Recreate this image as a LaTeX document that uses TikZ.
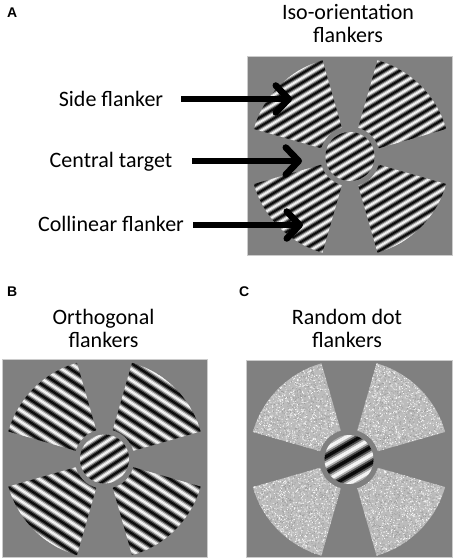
\documentclass[tikz,border=0pt]{standalone}
\usepackage{fontspec}
\setmainfont{Carlito}
\newfontfamily\lettersans{Liberation Sans}
\usetikzlibrary{arrows.meta}

\definecolor{screengray}{RGB}{128,128,128}
\definecolor{noisegray}{RGB}{188,188,188}

% flanker wedges and target disc round a panel centre
\tikzset{
  flankers/.style={insert path={
    \foreach \c in {45,135,225,315}{
      ({\c-29}:30) -- ({\c-29}:100) arc[start angle=\c-29, end angle=\c+29, radius=100]
      -- ({\c+29}:30) arc[start angle=\c+29, end angle=\c-29, radius=30] -- cycle}}},
  target/.style={insert path={(0,0) circle[radius=24.5]}}
}

% sine grating: stripe angle, period, cycles each side
\newcommand{\gratingfill}[3]{%
  \begin{scope}[rotate=#1]
    \foreach \k in {-#3,...,#3}{
      \foreach \s in {0,...,7}{
        \pgfmathtruncatemacro{\lum}{50-50*cos(45*\s+22.5)}
        \fill[white!\lum!black] (-130,{(\k+\s/8)*#2}) rectangle (130,{(\k+(\s+1.15)/8)*#2});
      }
    }
  \end{scope}}

\begin{document}
\begin{tikzpicture}[
    x=1pt, y=1pt,
    heading/.style={font=\fontsize{22}{23.5}\selectfont, align=center, inner sep=0pt, anchor=south},
    callout/.style={font=\fontsize{22}{24}\selectfont, inner sep=0pt, anchor=base},
    panel/.style={font=\lettersans\bfseries\fontsize{14}{15}\selectfont, inner sep=0pt, anchor=base west},
    screen/.style={fill=screengray, draw=gray!40, line width=1pt},
    pointer/.style={line width=6.5pt, -{Straight Barb[length=13pt, width=27pt, round]}}
]
\useasboundingbox (0,0) rectangle (454,560);
\pgfmathsetseed{2013}

% panel centres
\coordinate (isoc) at (350,403.5);
\coordinate (orthoc) at (104.5,101);
\coordinate (dotc) at (349,100.5);

% panel letters and headings
\node[panel] (lettera) at (7,542) {A};
\node[panel] (letterb) at (7,263) {B};
\node[panel] (letterc) at (239,263) {C};
\node[heading] (isohead) at (348,516.7) {Iso-orientation\\flankers};
\node[heading] (orthohead) at (103.5,212) {Orthogonal\\flankers};
\node[heading] (dothead) at (347,212) {Random dot\\flankers};

% A: iso-orientation
\begin{scope}[shift={(isoc)}]
  \path[screen] (-102.5,-99.5) rectangle (102.5,99.5);
  \begin{scope}
    \clip[target, flankers];
    \gratingfill{31}{8}{14}
  \end{scope}
\end{scope}

% B: orthogonal
\begin{scope}[shift={(orthoc)}]
  \path[screen] (-102.5,-99) rectangle (102.5,99);
  \begin{scope}
    \clip[flankers];
    \gratingfill{-33}{9.5}{12}
  \end{scope}
  \begin{scope}
    \clip[target];
    \gratingfill{33}{9}{4}
  \end{scope}
\end{scope}

% C: random dot
\begin{scope}[shift={(dotc)}]
  \path[screen] (-103,-98.5) rectangle (103,98.5);
  \begin{scope}
    \clip[flankers];
    \fill[noisegray] (-103,-100) rectangle (103,100);
    \foreach \b in {1,...,14}{
      \fill[white!92!gray] \foreach \i in {1,...,500}{({rand*102},{rand*100}) rectangle ++(0.9,0.9)};
      \fill[gray!75] \foreach \i in {1,...,430}{({rand*102},{rand*100}) rectangle ++(0.9,0.9)};
    }
  \end{scope}
  \begin{scope}
    \clip[target];
    \gratingfill{30}{14}{2}
  \end{scope}
\end{scope}

% callouts in A
\node[callout] (side) at (111,453) {Side flanker};
\node[callout] (central) at (111,392) {Central target};
\node[callout] (collinear) at (111,328) {Collinear flanker};
\coordinate (sidefrom) at (181,461);
\coordinate (sidetip) at (292,461);
\coordinate (centralfrom) at (192,399);
\coordinate (centraltip) at (302,399);
\coordinate (collinearfrom) at (193,335);
\coordinate (collineartip) at (303,335);
\draw[pointer] (sidefrom) -- (sidetip);
\draw[pointer] (centralfrom) -- (centraltip);
\draw[pointer] (collinearfrom) -- (collineartip);
\end{tikzpicture}
\end{document}
